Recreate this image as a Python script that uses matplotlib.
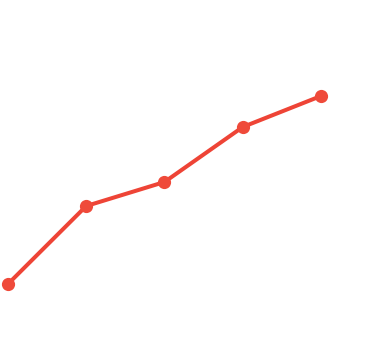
import matplotlib
matplotlib.use("Agg")
import matplotlib.pyplot as plt

# data
x_vals = [0, 1, 2, 3, 4]
y_vals = [65, 143, 167, 222, 253]

fig = plt.figure(figsize=(3.68, 3.49), dpi=100)
ax = fig.add_axes([0, 0, 1, 1])
ax.plot(x_vals, y_vals, color='#EE4436', linewidth=2.9,
        marker='o', markersize=9.5, markerfacecolor='#EF4A3A',
        markeredgewidth=0, solid_capstyle='round')
ax.set_xlim(-8 / 78.25, 360 / 78.25)
ax.set_ylim(0, 349)
ax.axis('off')

fig.savefig('out.png', dpi=100)
